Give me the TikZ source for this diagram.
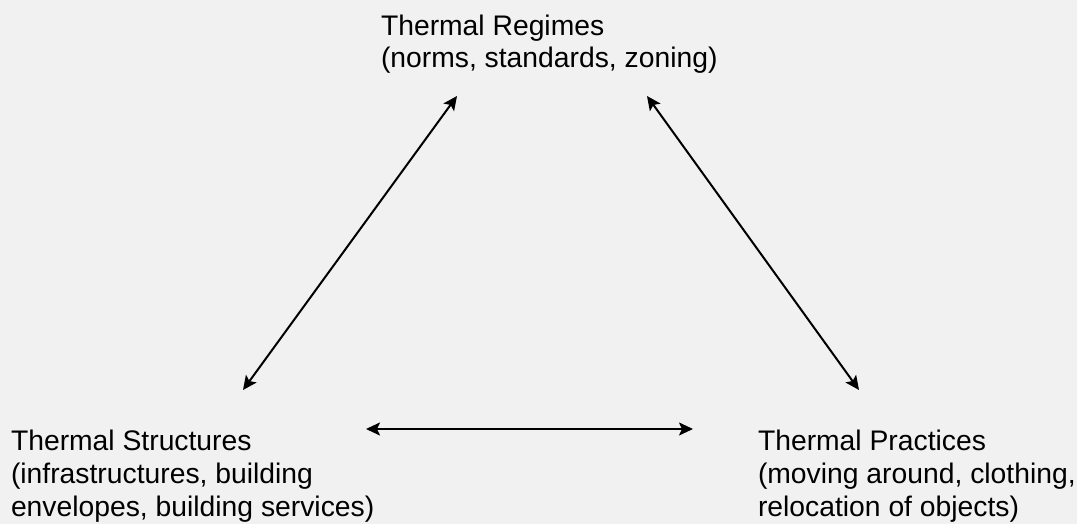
\documentclass[tikz,border=0pt]{standalone}
\usepackage{fontspec}
\newfontfamily\lblfont{Liberation Sans}
\usepackage{tikz}
\usetikzlibrary{arrows.meta}
\usepackage{xcolor}
\definecolor{bgcol}{RGB}{241,241,241}

\begin{document}
\begin{tikzpicture}[x=1bp,y=-1bp,<->,>={Stealth[length=14bp,width=13bp,inset=3bp]},line width=2bp]
  \fill[bgcol] (0,0) rectangle (1077,524);
  \useasboundingbox (0,0) rectangle (1077,524);
  \tikzset{lbl/.style={anchor=base west,align=left,inner sep=0pt,font=\lblfont\fontsize{28.4}{33}\selectfont}}

  % the base anchor sits on the last line
  \node[lbl]	(reg)		at (380,68) 	{Thermal Regimes\\(norms, standards, zoning)};
  \node[lbl]	(struct)	at (10,516) 	{Thermal Structures\\(infrastructures, building\\envelopes, building services)};
  \node[lbl]	(prac)		at (757,516) 	{Thermal Practices\\(moving around, clothing,\\relocation of objects)};

  \coordinate (reg-l)	at (457,96);
  \coordinate (reg-r)	at (647,96);
  \coordinate (struct-t)	at (243,390);
  \coordinate (struct-r)	at (366,429);
  \coordinate (prac-t)	at (859,390);
  \coordinate (prac-l)	at (693,429);

  \path 	(reg-l) edge (struct-t)
		(reg-r) edge (prac-t)
		(struct-r) edge (prac-l);
\end{tikzpicture}
\end{document}
